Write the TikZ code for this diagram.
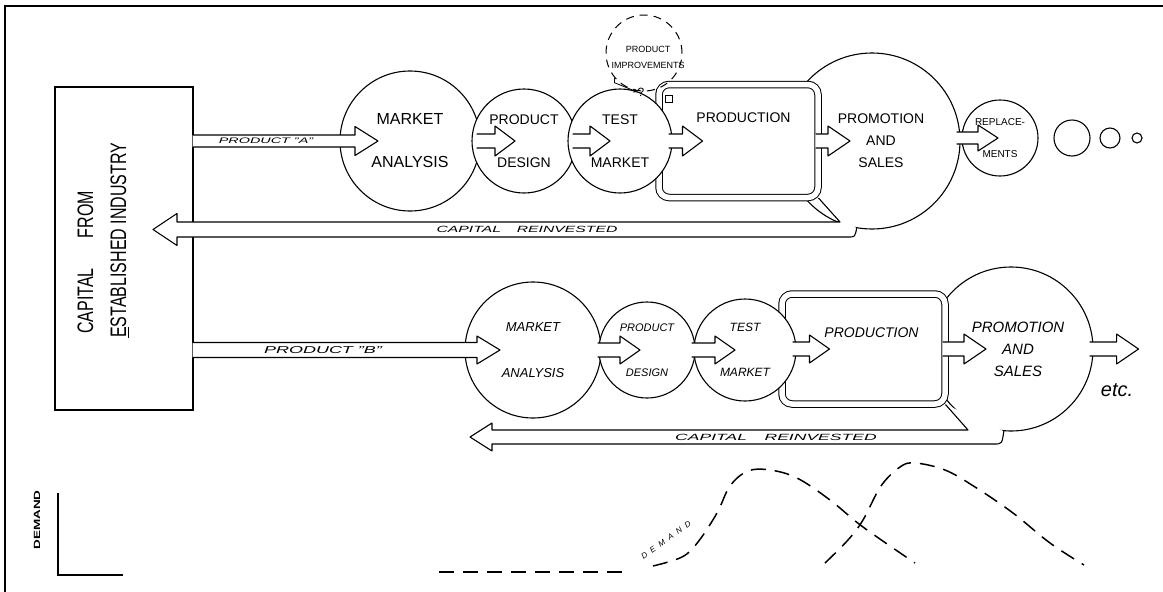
\documentclass[tikz,border=0pt]{standalone}
\usepackage{fontspec}
\setmainfont{Liberation Sans}
\usetikzlibrary{calc, arrows.meta}

\tikzset{
  flow/.style={line width=1.1pt, line join=round},
  stage/.style={circle, draw, line width=1.1pt, fill=white, inner sep=0pt, align=center},
  prodbox/.style={draw, line width=1pt, double=white, double distance=5.5pt, rounded corners=10pt, fill=white, inner sep=0pt},
  shaftlbl/.style={inner sep=0pt, font=\itshape\fontsize{8}{9}\selectfont},
  demline/.style={line width=1.5pt, dash pattern=on 15pt off 9pt},
}

% hollow flow arrow: start, tip, shaft half width, head half width, head length
\newcommand{\flowarrow}[5]{%
  \fill[white] let \p1=(#1), \p2=(#2) in
    (\x1,\y2+#3) -- (\x2-#5,\y2+#3) -- (\x2-#5,\y2+#4) -- (\x2,\y2)
    -- (\x2-#5,\y2-#4) -- (\x2-#5,\y2-#3) -- (\x1,\y2-#3) -- cycle;
  \draw[flow] let \p1=(#1), \p2=(#2) in
    (\x1,\y2+#3) -- (\x2-#5,\y2+#3) -- (\x2-#5,\y2+#4) -- (\x2,\y2)
    -- (\x2-#5,\y2-#4) -- (\x2-#5,\y2-#3) -- (\x1,\y2-#3);
}

\begin{document}
\begin{tikzpicture}[x=1pt, y=-1pt]
\useasboundingbox (0,0) rectangle (1163,592);
\draw[line width=1.5pt] (5,592) -- (5,6) -- (1163,6);

% capital source
\node[draw, line width=1.2pt, minimum width=138pt, minimum height=323pt] (capbox) at (124,248.5) {};
\node[rotate=90, anchor=base west, inner sep=0pt, font=\fontsize{16}{18}\selectfont] (capl1) at (93,334) {\scalebox{1}[1.4]{CAPITAL\hspace{30pt}FROM}};
\node[rotate=90, anchor=base west, inner sep=0pt, font=\fontsize{16}{18}\selectfont] (capl2) at (126,338) {\scalebox{1}[1.4]{\underline{E}STABLISHED INDUSTRY}};

% product A
\node[stage, minimum size=176pt, font=\fontsize{14}{17}\selectfont] (psA) at (872,141) {\hspace*{18pt}PROMOTION\\[5pt]\hspace*{18pt}AND\\[5pt]\hspace*{18pt}SALES};
\node[prodbox, minimum width=159pt, minimum height=113pt] (prodA) at (738.5,141) {};
\node[inner sep=0pt, font=\fontsize{14}{17}\selectfont] (prodAlbl) at ($(prodA.north)+(5,34)$) {PRODUCTION};
\node[stage, minimum size=140pt, font=\fontsize{16}{19}\selectfont] (maA) at (410,141) {MARKET\\[24pt]ANALYSIS};
\node[stage, minimum size=104pt, font=\fontsize{14}{17}\selectfont] (pdA) at (524,141) {PRODUCT\\[26pt]DESIGN};
\node[draw, circle, line width=1pt, dash pattern=on 8pt off 6pt, minimum size=76pt] (impr) at (644,53) {};
\node[inner sep=0pt, align=center, font=\fontsize{9}{10}\selectfont] (imprlbl) at (648,57) {PRODUCT\\[6pt]IMPROVEMENTS};
\node[stage, minimum size=104pt, font=\fontsize{14}{17}\selectfont] (tmA) at (620,141) {TEST\\[26pt]MARKET};
\node[stage, minimum size=76pt, font=\fontsize{10}{12}\selectfont] (replA) at (1000,138) {REPLACE-\\[20pt]MENTS};
\node[draw, circle, line width=1.1pt, minimum size=36pt] (rep2) at (1072,138) {};
\node[draw, circle, line width=1.1pt, minimum size=20pt] (rep3) at (1110,138) {};
\node[draw, circle, line width=1.1pt, minimum size=10pt] (rep4) at (1137,138) {};
\node[inner sep=0pt, font=\fontsize{12}{12}\selectfont] (qmark) at (641,92) {?};
\node[draw, line width=0.8pt, minimum size=7pt, inner sep=0pt] (sq) at (669,99) {};
\draw[line width=0.8pt, -{Stealth[length=4pt, width=4pt]}] (impr.-140) -- ++(0,5) -- (qmark.west);

\flowarrow{$(capbox.east)+(-1,0)$}{$(maA.center)+(-32,0)$}{6pt}{14.5pt}{23pt}
\flowarrow{$(maA.east)+(-4,0)$}{$(pdA.center)+(-9,0)$}{7pt}{15pt}{20pt}
\flowarrow{$(pdA.east)+(-4,0)$}{$(tmA.center)+(-10,0)$}{7pt}{15pt}{20pt}
\flowarrow{$(tmA.east)+(-4,0)$}{$(prodA.west)+(44,0)$}{7pt}{15pt}{20pt}
\flowarrow{$(prodA.east)+(-3,0)$}{$(psA.center)+(-22,0)$}{7pt}{15pt}{22pt}
\flowarrow{$(psA.east)+(-4,0)$}{$(replA.center)+(-2,0)$}{6pt}{13pt}{20pt}

\coordinate (reinvA) at (153,229.5);
\draw[flow, fill=white] (prodA.south east) -- (840,222) -- ($(reinvA)+(24,-7.5)$) -- ($(reinvA)+(24,-16)$) -- (reinvA)
  -- ($(reinvA)+(24,16)$) -- ($(reinvA)+(24,7.5)$) -- (848,237) .. controls (855,237) .. (psA.-100);
\node[shaftlbl] (lblA) at (266,141) {\scalebox{1.8}[1]{PRODUCT "A"}};
\node[shaftlbl, font=\itshape\fontsize{9}{10}\selectfont] (reinvAlbl) at (527,229.5) {\scalebox{1.75}[1]{CAPITAL\quad REINVESTED}};

% product B
\node[stage, minimum size=164pt, font=\itshape\fontsize{15}{18}\selectfont] (psB) at (1011,349) {\hspace*{14pt}PROMOTION\\[4pt]\hspace*{14pt}AND\\[4pt]\hspace*{14pt}SALES};
\node[prodbox, minimum width=163pt, minimum height=110pt] (prodB) at (863.5,349) {};
\node[inner sep=0pt, font=\itshape\fontsize{14}{17}\selectfont] (prodBlbl) at ($(prodB.north)+(8,39)$) {PRODUCTION};
\node[stage, minimum size=136pt, font=\itshape\fontsize{13}{16}\selectfont] (maB) at (533,350) {MARKET\\[30pt]ANALYSIS};
\node[stage, minimum size=96pt, font=\itshape\fontsize{11}{13}\selectfont] (pdB) at (647,350) {PRODUCT\\[32pt]DESIGN};
\node[stage, minimum size=102pt, font=\itshape\fontsize{12}{14}\selectfont] (tmB) at (745,350) {TEST\\[31pt]MARKET};

\flowarrow{$(capbox.east)+(-1,0)$}{$(maB.center)+(-33,0)$}{7.5pt}{14pt}{23pt}
\flowarrow{$(maB.east)+(-4,0)$}{$(pdB.center)+(-7,0)$}{7pt}{14pt}{20pt}
\flowarrow{$(pdB.east)+(-4,0)$}{$(tmB.center)+(-10,0)$}{7pt}{14pt}{20pt}
\flowarrow{$(tmB.east)+(-4,0)$}{$(prodB.west)+(48,0)$}{7pt}{14pt}{20pt}
\flowarrow{$(prodB.east)+(-3,0)$}{$(psB.center)+(-25,0)$}{7pt}{15pt}{22pt}
\flowarrow{$(psB.east)+(-4,0)$}{$(psB.east)+(45,0)$}{7pt}{15pt}{22pt}

\coordinate (reinvB) at (470,437);
\draw[flow, fill=white] (prodB.south east) -- (968,430) -- ($(reinvB)+(22,-7)$) -- ($(reinvB)+(22,-14)$) -- (reinvB)
  -- ($(reinvB)+(22,14)$) -- ($(reinvB)+(22,7)$) -- (994,444) .. controls (1002,444) .. (psB.-95);
\node[shaftlbl, font=\itshape\fontsize{10}{11}\selectfont] (lblB) at (323,350) {\scalebox{1.8}[1]{PRODUCT "B"}};
\node[shaftlbl, font=\itshape\fontsize{9}{10}\selectfont] (reinvBlbl) at (776,437) {\scalebox{1.95}[1]{CAPITAL\quad REINVESTED}};
\node[inner sep=0pt, font=\itshape\fontsize{20}{22}\selectfont] (etcl) at (1117,390) {etc.};

% demand curves
\draw[line width=1.3pt] (58,493) |- (123,575);
\node[rotate=90, inner sep=0pt, font=\bfseries\fontsize{9}{10}\selectfont] (demaxis) at (37,520) {\scalebox{1.5}[1]{DEMAND}};
\draw[demline] (439,572) -- (630,572);
\draw[demline] plot[smooth, tension=0.6] coordinates {(653,566) (682,557) (698,542) (717,513) (730,486) (748,471) (770,470) (797,478) (830,500) (863,527) (915,563)};
\draw[demline] plot[smooth, tension=0.6] coordinates {(825,563) (848,540) (863,520) (881,486) (900,467) (915,463) (945,470) (975,487) (1013,513) (1050,543) (1084,565)};
\node[rotate=35, inner sep=0pt, font=\itshape\fontsize{8}{9}\selectfont\addfontfeatures{LetterSpace=60}] (demlbl) at (666,540) {DEMAND};
\end{tikzpicture}
\end{document}
